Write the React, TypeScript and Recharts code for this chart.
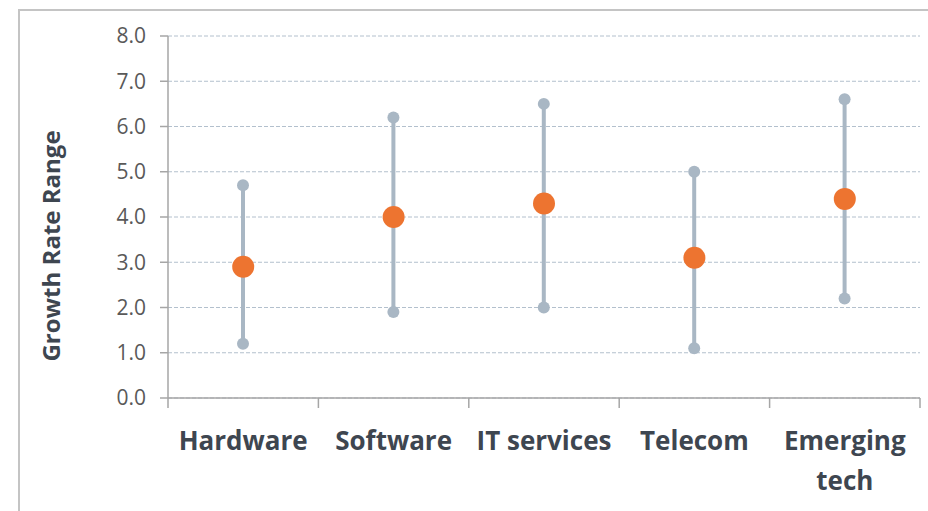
import React from "react";
import {
  ComposedChart,
  Bar,
  Line,
  XAxis,
  YAxis,
  CartesianGrid,
  Label,
} from "recharts";

const categories = ["Hardware", "Software", "IT services", "Telecom", "Emerging tech"];
const tickLabelLines = [["Hardware"], ["Software"], ["IT services"], ["Telecom"], ["Emerging", "tech"]];
const lowValues = [1.2, 1.9, 2.0, 1.1, 2.2];
const highValues = [4.7, 6.2, 6.5, 5.0, 6.6];
const midValues = [2.9, 4.0, 4.3, 3.1, 4.4];
const yTicks = [0, 1, 2, 3, 4, 5, 6, 7, 8];

const data = categories.map((name, i) => ({
  name,
  range: [lowValues[i], highValues[i]],
  mid: midValues[i],
}));

const FONT = '"Open Sans", "DejaVu Sans", sans-serif';
const RANGE_COLOR = "#a9b7c4";
const MID_COLOR = "#ed7430";
const AXIS_COLOR = "#a6a6a6";

const RangeShape = (props: any) => {
  const { x, y, width, height } = props;
  const cx = x + width / 2;
  return (
    <g>
      <line x1={cx} x2={cx} y1={y} y2={y + height} stroke={RANGE_COLOR} strokeWidth={4} />
      <circle cx={cx} cy={y} r={6} fill={RANGE_COLOR} />
      <circle cx={cx} cy={y + height} r={6} fill={RANGE_COLOR} />
    </g>
  );
};

const CategoryTick = (props: any) => {
  const { x, y, payload } = props;
  const idx = payload.index ?? categories.indexOf(payload.value);
  const lines = tickLabelLines[idx] || [payload.value];
  const half = payload.offset || 0;
  return (
    <g>
      <line x1={x - half} x2={x - half} y1={y} y2={y + 10} stroke={AXIS_COLOR} strokeWidth={1.5} />
      {idx === categories.length - 1 && (
        <line x1={x + half} x2={x + half} y1={y} y2={y + 10} stroke={AXIS_COLOR} strokeWidth={1.5} />
      )}
      {lines.map((t: string, k: number) => (
        <text
          key={k}
          x={x}
          y={y + 52 + k * 40}
          textAnchor="middle"
          fontFamily={FONT}
          fontWeight={700}
          fontSize={26}
          fill="#3e4650"
        >
          {t}
        </text>
      ))}
    </g>
  );
};

const YLabel = (props: any) => {
  const { viewBox } = props;
  const cx = 50;
  const cy = viewBox.y + viewBox.height / 2 + 29;
  return (
    <text
      x={cx}
      y={cy}
      transform={`rotate(-90, ${cx}, ${cy})`}
      textAnchor="middle"
      dominantBaseline="central"
      fontFamily={FONT}
      fontWeight={700}
      fontSize={24}
      fill="#3e4650"
    >
      Growth Rate Range
    </text>
  );
};

export default function App() {
  return (
    <div style={{ position: "absolute", left: 0, top: 0, width: 928, height: 511, overflow: "hidden", background: "#fff" }}>
      <div
        style={{
          position: "absolute",
          left: 18,
          top: 9,
          width: 1000,
          height: 1000,
          border: "2px solid #c4c4c4",
        }}
      />
      <div style={{ position: "absolute", left: 0, top: 0 }}>
        <ComposedChart
          width={928}
          height={511}
          data={data}
          margin={{ top: 36, right: 8, left: 0, bottom: 0 }}
        >
          <CartesianGrid vertical={false} stroke="#b3c0cd" strokeDasharray="4 2" />
          <XAxis
            dataKey="name"
            height={113}
            axisLine={{ stroke: AXIS_COLOR, strokeWidth: 1.5 }}
            tickLine={false}
            tickSize={0}
            tickMargin={0}
            tick={<CategoryTick />}
            interval={0}
          />
          <YAxis
            width={168}
            domain={[0, 8]}
            ticks={yTicks}
            interval={0}
            tickFormatter={(v: number) => v.toFixed(1)}
            axisLine={{ stroke: AXIS_COLOR, strokeWidth: 1.5 }}
            tickLine={{ stroke: AXIS_COLOR, strokeWidth: 1.5 }}
            tickSize={8}
            tickMargin={14}
            tick={{ fontFamily: FONT, fontSize: 21, fill: "#595959" }}
          >
            <Label content={<YLabel />} />
          </YAxis>
          <Bar dataKey="range" barSize={8} shape={<RangeShape />} isAnimationActive={false} />
          <Line
            dataKey="mid"
            stroke="none"
            dot={{ r: 11, fill: MID_COLOR, stroke: "none" }}
            activeDot={false}
            isAnimationActive={false}
          />
        </ComposedChart>
      </div>
    </div>
  );
}
